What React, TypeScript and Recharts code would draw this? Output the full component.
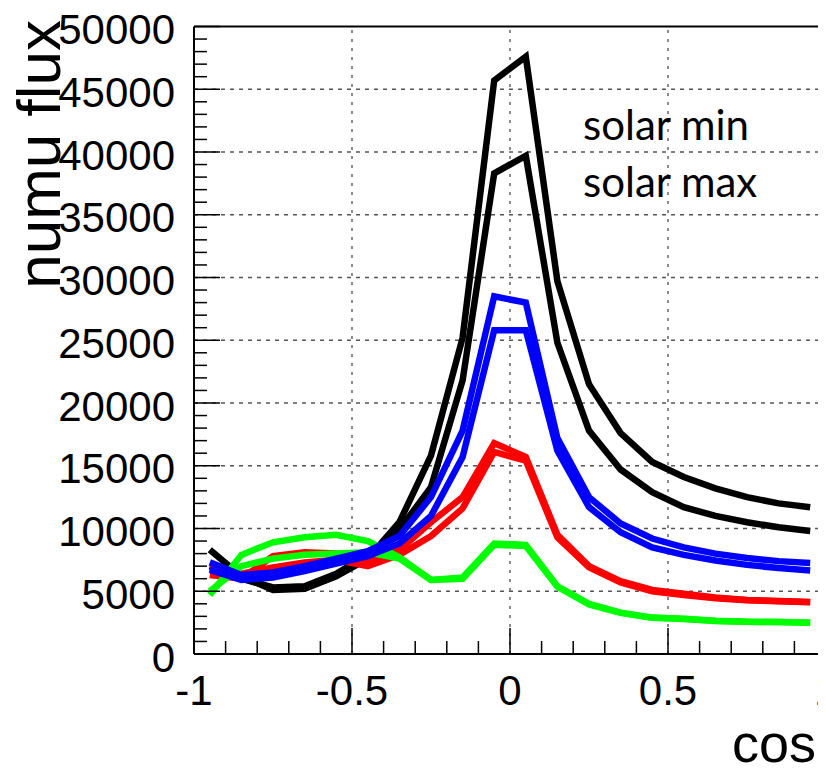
import { LineChart, Line, XAxis, YAxis, ReferenceLine } from 'recharts'

// bin centres in cos(zenith)
const COS = [-0.95, -0.85, -0.75, -0.65, -0.55, -0.45, -0.35, -0.25, -0.15, -0.05, 0.05, 0.15, 0.25, 0.35, 0.45, 0.55, 0.65, 0.75, 0.85, 0.95]

const BLACK_MIN = [8300, 6200, 5100, 5200, 6200, 7600, 10500, 15800, 25200, 45700, 47600, 29700, 21500, 17600, 15300, 14100, 13200, 12500, 12000, 11700]
const BLACK_MAX = [7000, 6000, 5300, 5400, 6400, 7900, 9900, 13300, 21800, 38300, 39700, 24800, 17800, 14700, 12900, 11700, 11000, 10500, 10100, 9800]
const RED_MIN = [6300, 6000, 7800, 8100, 8000, 7300, 8300, 10500, 12500, 16800, 15700, 9500, 7000, 5800, 5100, 4800, 4500, 4300, 4220, 4140]
const RED_MAX = [6800, 6400, 6900, 7300, 7500, 7000, 7900, 9400, 11600, 16100, 15400, 9300, 6900, 5700, 5000, 4700, 4450, 4280, 4200, 4120]
const GREEN_MIN = [4700, 7900, 8900, 9300, 9500, 9000, 7700, 5900, 6100, 8800, 8700, 5400, 4000, 3300, 2900, 2800, 2650, 2570, 2550, 2500]
const GREEN_MAX = [5000, 7000, 7600, 7900, 8000, 8100, 7600, 5900, 6000, 8700, 8600, 5350, 3950, 3280, 2880, 2780, 2630, 2560, 2540, 2490]
const BLUE_MIN = [7300, 6300, 6500, 7000, 7600, 8200, 9400, 12500, 17800, 28500, 28000, 17200, 12500, 10400, 9200, 8500, 8000, 7650, 7400, 7250]
const BLUE_MAX = [6700, 5900, 6100, 6600, 7200, 7800, 8800, 11000, 15700, 25800, 25800, 16200, 11700, 9700, 8500, 7900, 7450, 7100, 6850, 6650]

const X_TICKS = [-1, -0.9, -0.8, -0.7, -0.6, -0.5, -0.4, -0.3, -0.2, -0.1, 0, 0.1, 0.2, 0.3, 0.4, 0.5, 0.6, 0.7, 0.8, 0.9, 1]
const X_GRID = [-0.5, 0, 0.5]
const Y_TICKS = Array.from({ length: 51 }, (_, i) => i * 1000)
const Y_GRID = [5000, 10000, 15000, 20000, 25000, 30000, 35000, 40000, 45000]

const SERIES = [
  { key: 'blackMin', values: BLACK_MIN, color: '#000000' },
  { key: 'blackMax', values: BLACK_MAX, color: '#000000' },
  { key: 'redMin', values: RED_MIN, color: '#ff0000' },
  { key: 'redMax', values: RED_MAX, color: '#ff0000' },
  { key: 'greenMin', values: GREEN_MIN, color: '#00ff00' },
  { key: 'greenMax', values: GREEN_MAX, color: '#00ff00' },
  { key: 'blueMin', values: BLUE_MIN, color: '#0000ff' },
  { key: 'blueMax', values: BLUE_MAX, color: '#0000ff' },
]

const data = COS.map((c, i) => {
  const row: Record<string, number> = { cos: c }
  SERIES.forEach((s) => { row[s.key] = s.values[i] })
  return row
})

const FONT = '"Liberation Sans", Arial, sans-serif'

const isMajorX = (v: number) => Math.abs(v * 2 - Math.round(v * 2)) < 1e-6

function XTick(props: any) {
  const { x, y, payload } = props
  const v = payload.value as number
  const major = isMajorX(v)
  return (
    <g>
      <line x1={x} y1={y} x2={x} y2={y - (major ? 26 : 13)} stroke="#000" strokeWidth={1.5} />
      {major && (
        <text x={x} y={y + 36} textAnchor="middle" dominantBaseline="central" fontFamily={FONT} fontSize={42} fill="#000">
          {String(v)}
        </text>
      )}
    </g>
  )
}

function YTick(props: any) {
  const { x, y, payload } = props
  const v = payload.value as number
  const major = v % 5000 === 0
  return (
    <g>
      <line x1={x} y1={y} x2={x + (major ? 26 : 13)} y2={y} stroke="#000" strokeWidth={1.5} />
      {major && (
        <text x={x - 19} y={y + 3} textAnchor="end" dominantBaseline="central" fontFamily={FONT} fontSize={42} fill="#000">
          {String(v)}
        </text>
      )}
    </g>
  )
}

export default function App() {
  return (
    <div style={{ position: 'relative', width: 818, height: 757, overflow: 'hidden' }}>
      <LineChart width={818} height={757} data={data} margin={{ top: 18.5, right: 0, left: 0, bottom: 0 }}>
        <XAxis
          dataKey="cos"
          type="number"
          domain={[-1, 1]}
          ticks={X_TICKS}
          interval={0}
          height={111}
          tickSize={0}
          tickMargin={0}
          tickLine={false}
          tick={<XTick />}
          axisLine={{ stroke: '#000', strokeWidth: 2 }}
        />
        <YAxis
          type="number"
          domain={[0, 50000]}
          ticks={Y_TICKS}
          interval={0}
          width={186}
          tickSize={0}
          tickMargin={0}
          tickLine={false}
          tick={<YTick />}
          axisLine={{ stroke: '#000', strokeWidth: 2 }}
        />
        {Y_GRID.map((v) => (
          <ReferenceLine key={'y' + v} y={v} stroke="#555" strokeWidth={1.5} strokeDasharray="4 5" />
        ))}
        {X_GRID.map((v) => (
          <ReferenceLine key={'x' + v} x={v} stroke="#666" strokeWidth={1.5} strokeDasharray="3 6" />
        ))}
        <ReferenceLine y={50000} stroke="#000" strokeWidth={2} />
        {SERIES.map((s) => (
          <Line
            key={s.key}
            dataKey={s.key}
            stroke={s.color}
            strokeWidth={6.5}
            strokeLinejoin="miter"
            dot={false}
            activeDot={false}
            isAnimationActive={false}
          />
        ))}
      </LineChart>
      <svg width={818} height={757} style={{ position: 'absolute', left: 0, top: 0, pointerEvents: 'none' }}>
        <text x={575} y={132} fontFamily="Lato, sans-serif" fontSize={42} fill="#000">solar min</text>
        <text x={575} y={189} fontFamily="Lato, sans-serif" fontSize={42} fill="#000">solar max</text>
        <text transform="translate(52,12) rotate(-90)" textAnchor="end" fontFamily={FONT} fontSize={62} fill="#000">numu flux</text>
        <text x={808} y={754} textAnchor="end" fontFamily={FONT} fontSize={54} fill="#000">cos</text>
      </svg>
    </div>
  )
}
